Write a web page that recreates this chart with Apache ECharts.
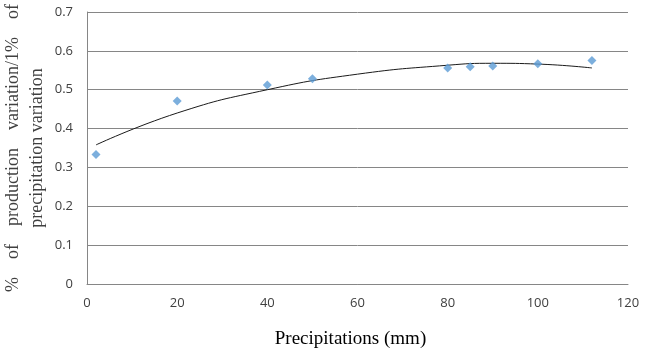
<!DOCTYPE html>
<html>
<head>
<meta charset="utf-8">
<script src="https://cdn.jsdelivr.net/npm/echarts@6/dist/echarts.min.js"></script>
<style>
  html, body { margin: 0; padding: 0; background: #fff; }
  #chart { width: 650px; height: 349px; }
</style>
</head>
<body>
<div id="chart"></div>
<script>
// measured points (precipitation mm, ratio)
const precip = [2, 20, 40, 50, 80, 85, 90, 100, 112]
const ratio = [0.333, 0.471, 0.512, 0.528, 0.556, 0.559, 0.561, 0.567, 0.575]

// trend line
const trendX = [2, 20, 40, 60, 80, 90, 100, 112]
const trendY = [0.358, 0.440, 0.500, 0.540, 0.563, 0.568, 0.566, 0.556]

const xTicks = [0, 20, 40, 60, 80, 100, 120]
const yTicks = [0, 0.1, 0.2, 0.3, 0.4, 0.5, 0.6, 0.7]

const chart = echarts.init(document.getElementById('chart'))

const option = {
  animation: false,
  grid: { left: 87, right: 22, top: 12, bottom: 65, outerBoundsMode: 'none', containLabel: false },
  xAxis: {
    type: 'value',
    min: xTicks[0],
    max: xTicks[xTicks.length - 1],
    interval: 20,
    name: 'Precipitations (mm)',
    nameLocation: 'middle',
    nameGap: 46,
    nameMoveOverlap: false,
    nameTextStyle: { fontFamily: 'Liberation Serif', fontSize: 19, color: '#000', padding: [0, 14, 0, 0] },
    axisLine: { lineStyle: { color: '#868686' } },
    axisTick: { show: false },
    axisLabel: { fontFamily: 'Open Sans', fontSize: 13, color: '#404040', margin: 13 },
    splitLine: { show: false }
  },
  yAxis: {
    type: 'value',
    min: yTicks[0],
    max: yTicks[yTicks.length - 1],
    interval: 0.1,
    name: '%    of    production    variation/1%    of\nprecipitation variation',
    nameLocation: 'middle',
    nameGap: 38,
    nameMoveOverlap: false,
    nameTextStyle: { fontFamily: 'Liberation Serif', fontSize: 18, color: '#404040', lineHeight: 24, align: 'center' },
    axisLine: { show: true, lineStyle: { color: '#868686' } },
    axisTick: { show: false },
    axisLabel: {
      fontFamily: 'Open Sans', fontSize: 13, color: '#404040', margin: 14,
      formatter: v => (Math.round(v * 10) / 10).toString()
    },
    splitLine: { lineStyle: { color: '#868686', width: 1 } }
  },
  series: [
    {
      type: 'line',
      data: trendX.map((x, i) => [x, trendY[i]]),
      smooth: true,
      showSymbol: false,
      lineStyle: { color: '#1a1a1a', width: 1 },
      z: 2
    },
    {
      type: 'scatter',
      data: precip.map((x, i) => [x, ratio[i]]),
      symbol: 'diamond',
      symbolSize: 9,
      itemStyle: { color: '#5B9BD5' },
      z: 3
    }
  ]
}

chart.setOption(option)
</script>
</body>
</html>
